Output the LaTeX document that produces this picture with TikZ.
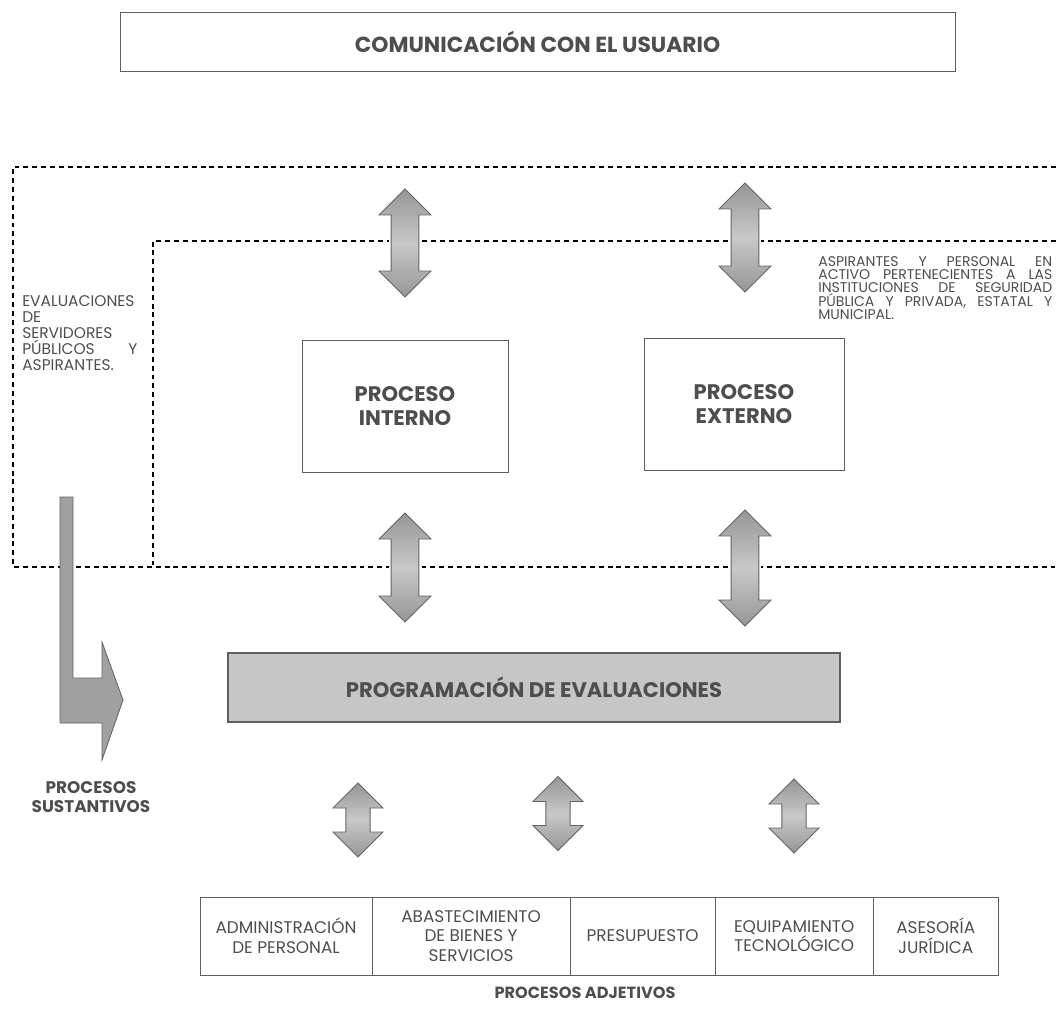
\documentclass[tikz,border=0pt]{standalone}
\usepackage{fontspec}
\setmainfont{Poppins}
\usepackage{tikz}
\usetikzlibrary{shapes.arrows, positioning, calc}
\definecolor{textgray}{RGB}{78, 78, 78}
\definecolor{linegray}{RGB}{95, 95, 95}
\definecolor{arrowdark}{RGB}{150, 150, 150}
\definecolor{arrowlight}{RGB}{200, 200, 200}
\definecolor{arrowdraw}{RGB}{100, 100, 100}
\definecolor{barfill}{RGB}{198, 198, 198}
\tikzstyle{process} = [rectangle, draw=linegray, line width=0.5pt, minimum height=3.3cm, align=center, font=\fontsize{15}{17}\selectfont\bfseries, text=textgray]
\tikzstyle{cell} = [rectangle, draw=linegray, line width=0.4pt, minimum height=1.95cm, align=center, font=\fontsize{12}{14}\selectfont, text=textgray, inner sep=0pt, outer sep=0pt]
\tikzstyle{dblarrow} = [double arrow, rotate=90, draw=arrowdraw, top color=arrowdark, bottom color=arrowdark, middle color=arrowlight, line width=0.6pt, inner sep=0.275cm, minimum width=1.3cm, double arrow tip angle=90, preaction={draw=white, line width=3pt}]
\tikzstyle{zone} = [dash pattern=on 3.5pt off 2.8pt, line width=0.8pt]
\tikzstyle{note} = [align=left, font=\fontsize{11}{11.4}\selectfont, text=textgray, inner sep=0pt, anchor=north west]
\tikzstyle{caption} = [align=center, font=\fontsize{12}{14}\selectfont\bfseries, text=textgray]

\begin{document}
\begin{tikzpicture}[x=0.025cm, y=-0.025cm]
    \useasboundingbox (0,0) rectangle (1056,1011);

    % User communication
    \node[draw=linegray, line width=0.5pt, minimum width=20.875cm, minimum height=1.475cm, font=\fontsize{15.5}{17}\selectfont\bfseries, text=textgray] (usuario) at (537.5,41.5) {COMUNICACIÓN CON EL USUARIO};

    % Dashed zones
    \draw[zone] (1056,167) -- (13,167) -- (13,567) -- (1056,567);
    \draw[zone] (1056,241) -- (153,241) -- (153,567);

    % Notes
    \node[note, text width=2.875cm] (evalnote) at (22,295) {EVALUACIONES\\DE\\SERVIDORES\\PÚBLICOS\hfill Y\\ASPIRANTES.};
    \node[note, text width=5.85cm, font=\fontsize{10}{9.2}\selectfont] (aspnote) at (818,256) {ASPIRANTES\hfill Y\hfill PERSONAL\hfill EN\\ACTIVO\hfill PERTENECIENTES\hfill A\hfill LAS\\INSTITUCIONES\hfill DE\hfill SEGURIDAD\\PÚBLICA\hfill Y\hfill PRIVADA,\hfill ESTATAL\hfill Y\\MUNICIPAL.};

    % Processes
    \node[process, minimum width=5.15cm] (interno) at (405,406) {PROCESO\\INTERNO};
    \node[process, minimum width=5cm] (externo) at (744,404) {PROCESO\\EXTERNO};

    % Scheduling
    \node[draw=linegray, line width=0.9pt, fill=barfill, minimum width=15.3cm, minimum height=1.725cm, font=\fontsize{15}{17}\selectfont\bfseries, text=textgray] (programa) at (534,687.5) {PROGRAMACIÓN DE EVALUACIONES};

    % Double arrows
    \node[dblarrow, minimum height=2.7cm] (intup) at (405,243) {};
    \node[dblarrow, minimum height=2.725cm] (extup) at (745,237.5) {};
    \node[dblarrow, minimum height=2.725cm] (intdown) at (405,567.5) {};
    \node[dblarrow, minimum height=2.9cm] (extdown) at (745,568) {};
    \node[dblarrow, minimum height=1.85cm, inner sep=0.225cm, minimum width=1.25cm] (adm1) at (358,820) {};
    \node[dblarrow, minimum height=1.85cm, inner sep=0.225cm, minimum width=1.25cm] (adm2) at (558,813.5) {};
    \node[dblarrow, minimum height=1.85cm, inner sep=0.225cm, minimum width=1.25cm] (adm3) at (794,816) {};

    % Substantive arrow
    \draw[draw=arrowdraw, fill=arrowdark!80!arrowlight, line width=0.6pt] (60,497) -- (73,497) -- (73,678) -- (102,678) -- (102,642) -- (123,700) -- (102,760) -- (102,723) -- (60,723) -- cycle;
    \node[caption] (sustantivos) at (91,797) {PROCESOS\\SUSTANTIVOS};

    % Adjective processes
    \node[cell, minimum width=4.3cm, anchor=west] (admin) at (200,936) {ADMINISTRACIÓN\\DE PERSONAL};
    \node[cell, minimum width=4.95cm, right=0pt of admin] (abasto) {ABASTECIMIENTO\\DE BIENES Y\\SERVICIOS};
    \node[cell, minimum width=3.625cm, right=0pt of abasto] (presupuesto) {PRESUPUESTO};
    \node[cell, minimum width=3.95cm, right=0pt of presupuesto] (equipo) {EQUIPAMIENTO\\TECNOLÓGICO};
    \node[cell, minimum width=3.125cm, right=0pt of equipo] (asesoria) {ASESORÍA\\JURÍDICA};
    \node[caption, font=\fontsize{11.5}{14}\selectfont\bfseries] (adjetivos) at (585,993) {PROCESOS ADJETIVOS};
\end{tikzpicture}
\end{document}
